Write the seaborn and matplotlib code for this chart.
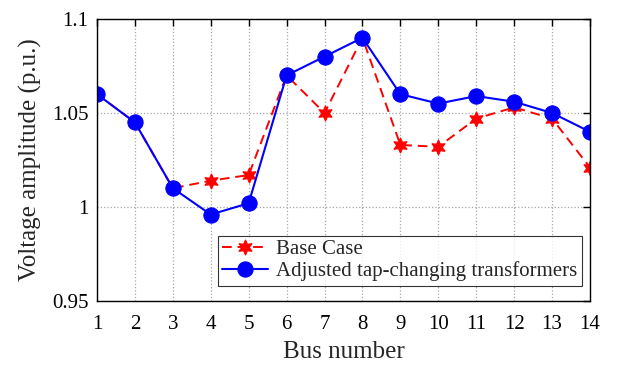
import numpy as np
import pandas as pd
import matplotlib
matplotlib.use("Agg")
import matplotlib.pyplot as plt
import seaborn as sns

bus = list(range(1, 15))
base_case = [1.060, 1.045, 1.010, 1.014, 1.017, 1.070, 1.050, 1.090, 1.033, 1.032, 1.047, 1.053, 1.047, 1.021]
adjusted = [1.060, 1.045, 1.010, 0.996, 1.002, 1.070, 1.080, 1.090, 1.060, 1.055, 1.059, 1.056, 1.050, 1.040]
series_names = ["Base Case", "Adjusted tap-changing transformers"]

sns.set_style("white")
plt.rcParams['font.family'] = ['Liberation Serif', 'DejaVu Serif']
plt.rcParams['mathtext.fontset'] = 'stix'

df = pd.DataFrame({
    "bus": bus * 2,
    "v": base_case + adjusted,
    "series": [series_names[0]] * 14 + [series_names[1]] * 14,
})

fig = plt.figure(figsize=(6.31, 3.65), dpi=100)
ax = fig.add_axes([0.1537, 0.1753, 0.7813, 0.7727])

sns.lineplot(data=df[df.series == series_names[0]], x="bus", y="v", ax=ax,
             color="red", linestyle=(0, (5, 3)), lw=1.4, marker=(6, 1, 0),
             markersize=11, markeredgecolor="red", markerfacecolor="red",
             label=series_names[0])
sns.lineplot(data=df[df.series == series_names[1]], x="bus", y="v", ax=ax,
             color="blue", lw=1.5, marker="o", markersize=11,
             markeredgecolor="blue", markerfacecolor="blue",
             label=series_names[1])

ax.set_xlim(1, 14)
ax.set_ylim(0.95, 1.1)
ax.set_xticks(bus)
ax.set_xticklabels([str(b) for b in bus])
ax.set_yticks([0.95, 1.0, 1.05, 1.1])
ax.set_yticklabels(["0.95", "1", "1.05", "1.1"])
ax.grid(True, color="#a8a8a8", linestyle=":", lw=0.9)
ax.tick_params(direction="in", top=True, right=True, length=5, width=1,
               labelsize=15, colors="black")
ax.tick_params(axis="x", pad=10)
ax.tick_params(axis="y", pad=6)
for s in ax.spines.values():
    s.set_color("black")
    s.set_linewidth(1.0)
ax.set_xlabel("Bus number", fontsize=18, labelpad=5)
ax.set_ylabel("Voltage amplitude (p.u.)", fontsize=18, labelpad=7)

leg = ax.legend(loc="lower right", bbox_to_anchor=(0.983, 0.055), fontsize=15,
                frameon=True, fancybox=False, edgecolor="black",
                borderpad=0.2, labelspacing=0.1, handlelength=2.2,
                handletextpad=0.4, borderaxespad=0)
leg.get_frame().set_linewidth(0.8)

fig.savefig("out.png", dpi=100)
